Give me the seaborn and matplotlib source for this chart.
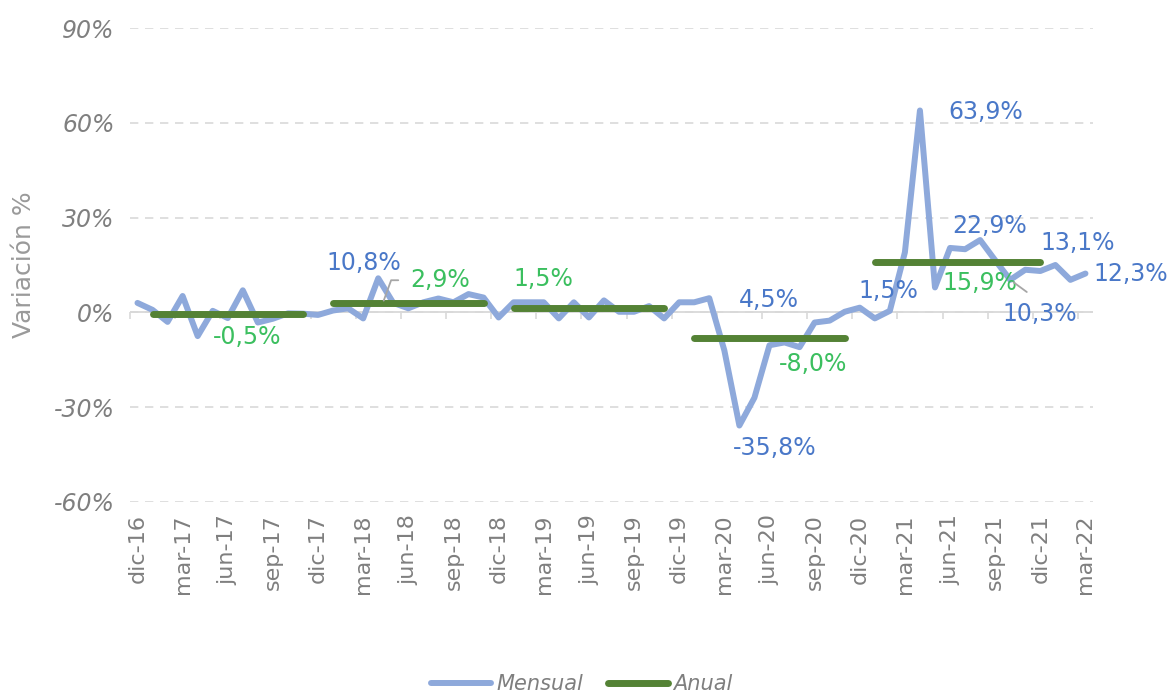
import numpy as np
import pandas as pd
import seaborn as sns
import matplotlib.pyplot as plt

# --- data ---------------------------------------------------------------
month_abbr = ["ene", "feb", "mar", "abr", "may", "jun",
              "jul", "ago", "sep", "oct", "nov", "dic"]

# monthly variation (%), dic-16 .. mar-22
mensual = [3.0, 0.8, -3.0, 5.2, -7.5, 0.5, -1.8, 7.0, -3.2, -2.0, -0.3, -0.4,
           -0.8, 0.6, 1.3, -1.9, 10.8, 3.0, 1.3, 3.2, 4.4, 3.2, 5.8, 4.7,
           -1.6, 3.2, 3.2, 3.2, -1.9, 3.2, -1.6, 3.8, 0.2, 0.2, 2.0, -1.9,
           3.2, 3.2, 4.5, -12.0, -35.8, -27.0, -10.4, -9.5, -11.0, -3.2, -2.6, 0.2,
           1.5, -1.9, 0.5, 19.0, 63.9, 7.9, 20.4, 20.0, 22.9, 16.5, 10.3, 13.5,
           13.1, 15.0, 10.3, 12.3]

# annual variation (%), drawn as flat segments over each year's months
anual_years = ["2017", "2018", "2019", "2020", "2021"]
anual_values = [-0.5, 2.9, 1.5, -8.0, 15.9]
anual_start = [1, 13, 25, 37, 49]
anual_end = [11, 23, 35, 47, 60]

# labels: (x index, y value, text, offset px, series)
labels = [
    (16, 10.8, "10,8%", (-14, 15), "m"),
    (16.3, 2.9, "2,9%", (57, 23), "a"),
    (6, -0.5, "-0,5%", (19, -23), "a"),
    (27, 1.5, "1,5%", (0, 29), "a"),
    (38, 4.5, "4,5%", (60, -2), "m"),
    (42, -8.0, "-8,0%", (44, -26), "a"),
    (40, -35.8, "-35,8%", (35, -22), "m"),
    (48, 1.5, "1,5%", (29, 17), "m"),
    (52, 63.9, "63,9%", (66, -2), "m"),
    (56, 22.9, "22,9%", (9, 14), "m"),
    (53, 15.9, "15,9%", (45, -21), "a"),
    (58, 10.3, "10,3%", (30, -34), "m"),
    (60, 13.1, "13,1%", (37, 28), "m"),
    (63, 12.3, "12,3%", (45, 0), "m"),
]

BLUE_LINE = "#8EA9DB"
BLUE_TEXT = "#4A78C8"
GREEN_LINE = "#548235"
GREEN_TEXT = "#3BBF5F"
GRID = "#D9D9D9"
TICK_TEXT = "#7F7F7F"


def main():
    n = len(mensual)
    month_labels = [f"{month_abbr[(11 + i) % 12]}-{16 + (11 + i) // 12}" for i in range(n)]
    df_m = pd.DataFrame({"idx": np.arange(n), "valor": mensual})

    rows = []
    for yr, v, s, e in zip(anual_years, anual_values, anual_start, anual_end):
        rows.append({"year": yr, "idx": s, "valor": v})
        rows.append({"year": yr, "idx": e, "valor": v})
    df_a = pd.DataFrame(rows)

    sns.set_style("white")
    plt.rcParams["font.family"] = ["DejaVu Sans"]

    fig = plt.figure(figsize=(11.75, 6.95), dpi=100)
    ax = fig.add_axes([0.1106, 0.2777, 0.8196, 0.682])

    sns.lineplot(data=df_m, x="idx", y="valor", ax=ax, color=BLUE_LINE,
                 linewidth=4.3, label="Mensual", zorder=3,
                 solid_joinstyle="round", solid_capstyle="round")
    sns.lineplot(data=df_a, x="idx", y="valor", units="year", estimator=None,
                 ax=ax, color=GREEN_LINE, linewidth=5, label="Anual", zorder=4,
                 solid_capstyle="round")

    ax.set_xlim(-0.5, n - 0.5)
    ax.set_ylim(-60, 90)
    yt = [-60, -30, 0, 30, 60, 90]
    ax.set_yticks(yt)
    ax.set_yticklabels([f"{v}%" for v in yt], fontsize=17, style="italic",
                       color=TICK_TEXT)
    ax.grid(axis="y", linestyle=(0, (5, 4)), color=GRID, linewidth=1.2)
    ax.grid(axis="x", visible=False)
    ax.axhline(0, color=GRID, linewidth=1.3, zorder=1)

    xt = np.arange(0, n, 3)
    ax.set_xticks(xt)
    ax.set_xticklabels([month_labels[i] for i in xt], rotation=90,
                       fontsize=16, color=TICK_TEXT)
    ax.tick_params(axis="both", length=0)
    ax.tick_params(axis="y", pad=11)
    ax.tick_params(axis="x", pad=9)

    # small tick marks on the zero line
    sec = ax.secondary_xaxis(0.4)
    sec.set_xticks(np.arange(-0.5, n, 3))
    sec.set_xticklabels([])
    sec.tick_params(axis="x", length=5, width=1.2, color=GRID, direction="out")
    for sp in sec.spines.values():
        sp.set_visible(False)

    for sp in ax.spines.values():
        sp.set_visible(False)

    ax.set_xlabel("")
    ax.set_ylabel("Variación %", fontsize=18, color="#9A9A9A")
    ax.yaxis.set_label_coords(-0.098, 0.5)

    for x, y, txt, off, ser in labels:
        color = BLUE_TEXT if ser == "m" else GREEN_TEXT
        kw = {}
        if txt == "2,9%":
            kw["arrowprops"] = dict(arrowstyle="-", color="#A6A6A6", lw=1.3,
                                    relpos=(0, 0.5), shrinkA=6, shrinkB=2,
                                    connectionstyle="angle,angleA=0,angleB=70,rad=0")
        elif txt == "10,3%":
            kw["arrowprops"] = dict(arrowstyle="-", color="#A6A6A6", lw=1.3,
                                    relpos=(0.5, 1), shrinkA=8, shrinkB=3)
        ax.annotate(txt, xy=(x, y), xytext=off, textcoords="offset pixels",
                    ha="center", va="center", fontsize=17, color=color,
                    zorder=6, **kw)

    # one legend entry per series (the annual one has several segments)
    handles, lbls = ax.get_legend_handles_labels()
    ax.get_legend().remove()
    keep = {}
    for h, l in zip(handles, lbls):
        keep.setdefault(l, h)
    fig.legend(list(keep.values()), list(keep.keys()), loc="center",
               bbox_to_anchor=(0.495, 0.016), ncol=2, frameon=False,
               handlelength=2.9, handletextpad=0.25, columnspacing=1.2,
               prop={"size": 15, "style": "italic"}, labelcolor=TICK_TEXT)

    fig.savefig("out.png", dpi=100)


if __name__ == "__main__":
    main()
